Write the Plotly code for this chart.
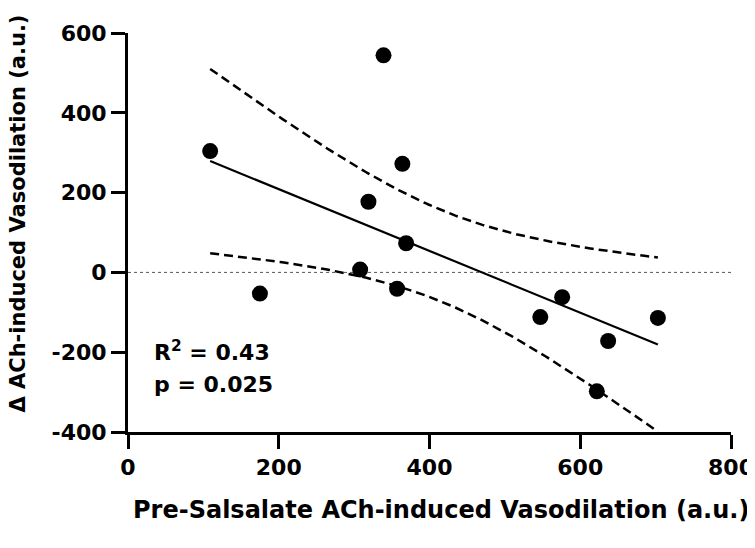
import numpy as np
import plotly.graph_objects as go

# values
pre_salsalate = [109, 175, 308, 319, 339, 357, 364, 369, 547, 576, 622, 637, 703]
delta_ach = [304, -53, 7, 177, 544, -41, 272, 73, -112, -62, -298, -172, -114]
x_ticks = [0, 200, 400, 600, 800]
y_ticks = [-400, -200, 0, 200, 400, 600]
y_tick_labels = ["-400", "-200", "0", "200", "400", "600"]
x_title = "Pre-Salsalate ACh-induced Vasodilation (a.u.)"
y_title = "Δ ACh-induced Vasodilation (a.u.)"
r2_text = "R<sup>2</sup> = 0.43"
p_text = "p = 0.025"

x = np.array(pre_salsalate, dtype=float)
y = np.array(delta_ach, dtype=float)
n = len(x)

# linear fit + 95% confidence band of the line
slope, intercept = np.polyfit(x, y, 1)
resid = y - (slope * x + intercept)
s = np.sqrt(np.sum(resid ** 2) / (n - 2))
t_crit = 2.201  # t(0.975, df=11)
xf = np.linspace(x.min(), x.max(), 200)
yf = slope * xf + intercept
half = t_crit * s * np.sqrt(1 / n + (xf - x.mean()) ** 2 / np.sum((x - x.mean()) ** 2))

font = "DejaVu Sans, sans-serif"

fig = go.Figure()
fig.add_trace(go.Scatter(x=xf, y=yf + half, mode="lines",
                         line=dict(color="black", width=2.5, dash="9px,5px"), hoverinfo="skip"))
fig.add_trace(go.Scatter(x=xf, y=yf - half, mode="lines",
                         line=dict(color="black", width=2.5, dash="9px,5px"), hoverinfo="skip"))
fig.add_trace(go.Scatter(x=xf, y=yf, mode="lines",
                         line=dict(color="black", width=2.2), hoverinfo="skip"))
fig.add_trace(go.Scatter(x=x, y=y, mode="markers",
                         marker=dict(color="black", size=16)))

# dotted zero line
fig.add_shape(type="line", x0=0, x1=800, y0=0, y1=0, xref="x", yref="y",
              line=dict(color="#555555", width=1, dash="dot"), layer="below")

fig.add_annotation(x=32, y=-198, text=r2_text, showarrow=False, xanchor="left",
                   font=dict(family=font, size=22, color="black", weight="bold"))
fig.add_annotation(x=32, y=-282, text=p_text, showarrow=False, xanchor="left",
                   font=dict(family=font, size=22, color="black", weight="bold"))

# axis titles placed as annotations (they sit off-centre in the reference)
fig.add_annotation(xref="paper", yref="paper", x=0.519, y=-0.195, text=x_title,
                   showarrow=False, xanchor="center", yanchor="middle",
                   font=dict(family=font, size=24, color="black", weight="bold"))
fig.add_annotation(xref="paper", yref="paper", x=-0.182, y=0.548, text=y_title,
                   showarrow=False, textangle=-90, xanchor="center", yanchor="middle",
                   font=dict(family=font, size=21, color="black", weight="bold"))

axis_common = dict(showgrid=False, zeroline=False, showline=True, linecolor="black",
                   linewidth=3, ticks="outside", ticklen=14, tickwidth=3, tickcolor="black",
                   automargin=False,
                   tickfont=dict(family=font, size=22, color="black", weight="bold"))

fig.update_xaxes(range=[0, 800], tickvals=x_ticks, **axis_common)
fig.update_yaxes(range=[-400, 600], tickvals=y_ticks, ticktext=y_tick_labels, **axis_common)

# page body adds an 8px offset, margins compensate for it
fig.update_layout(width=755, height=548, showlegend=False,
                  plot_bgcolor="white", paper_bgcolor="white",
                  margin=dict(l=120, r=32, t=25, b=124))

fig.write_html("out.html")
